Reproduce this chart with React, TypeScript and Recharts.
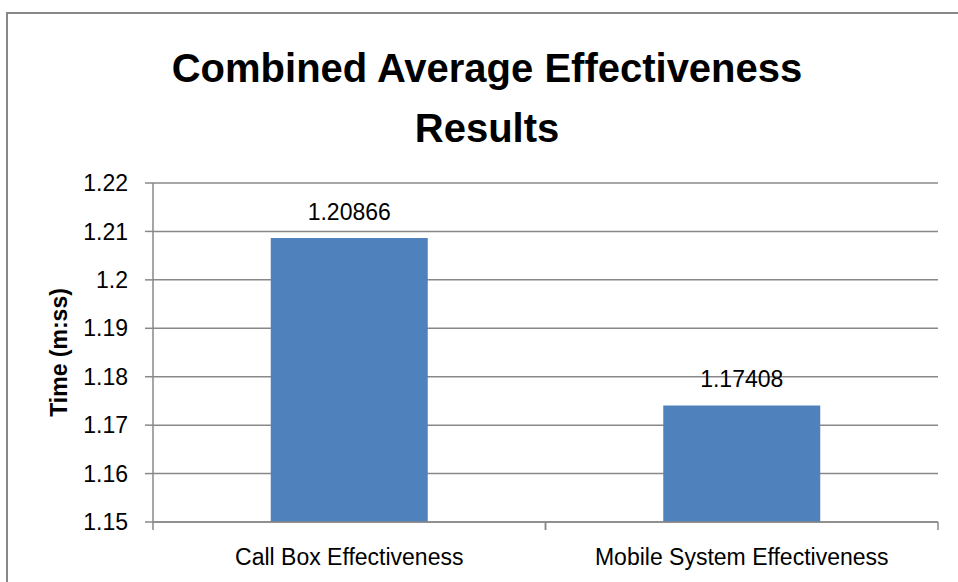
import { BarChart, Bar, XAxis, YAxis, CartesianGrid, LabelList } from "recharts"

const categories = ["Call Box Effectiveness", "Mobile System Effectiveness"]
const values = [1.20866, 1.17408]
const yTicks = [1.15, 1.16, 1.17, 1.18, 1.19, 1.2, 1.21, 1.22]

const data = categories.map((name, i) => ({ name, value: values[i] }))

const FONT = "'Liberation Sans', Arial, sans-serif"
const GREY = "#888888"

function CategoryTick(props: any) {
  const { x, y, payload, width, visibleTicksCount } = props
  const half = payload.offset ?? width / (visibleTicksCount * 2)
  const axisY = y - 26
  return (
    <g>
      <line x1={x - half} x2={x - half} y1={axisY} y2={axisY + 8} stroke={GREY} strokeWidth={1.5} />
      <line x1={x + half} x2={x + half} y1={axisY} y2={axisY + 8} stroke={GREY} strokeWidth={1.5} />
      <text x={x} y={y} dy="0.72em" textAnchor="middle" fontSize={23} fill="#000" fontFamily={FONT}>
        {payload.value}
      </text>
    </g>
  )
}

export default function App() {
  return (
    <div style={{ position: "fixed", left: 0, top: 0, width: 958, height: 582, overflow: "hidden", background: "#fff", fontFamily: FONT }}>
      <div style={{ position: "absolute", left: 6, top: 12, width: 1000, height: 700, border: `2px solid ${GREY}`, boxSizing: "border-box" }} />
      <div style={{ position: "absolute", left: 0, top: 38, width: 974, textAlign: "center", fontSize: 40, fontWeight: "bold", lineHeight: "60px", color: "#000" }}>
        Combined Average Effectiveness
        <br />
        Results
      </div>
      <div style={{ position: "absolute", left: 0, top: 0 }}>
        <BarChart width={958} height={582} data={data} margin={{ top: 183, right: 20, left: 0, bottom: 0 }} barCategoryGap="30%">
          <CartesianGrid vertical={false} stroke={GREY} strokeWidth={1.5} />
          <XAxis
            dataKey="name"
            height={60}
            axisLine={{ stroke: GREY, strokeWidth: 1.5 }}
            tickLine={false}
            tickSize={8}
            tickMargin={18}
            tick={<CategoryTick />}
            interval={0}
          />
          <YAxis
            width={153}
            domain={[1.15, 1.22]}
            ticks={yTicks}
            allowDataOverflow
            axisLine={{ stroke: GREY, strokeWidth: 1.5 }}
            tickLine={{ stroke: GREY, strokeWidth: 1.5 }}
            tickSize={8}
            tickMargin={17}
            tick={{ fontSize: 23, fill: "#000", fontFamily: FONT }}
            tickFormatter={(v: number) => String(parseFloat(v.toFixed(2)))}
            label={{ value: "Time (m:ss)", angle: -90, position: "center", dx: -18, fontSize: 23, fontWeight: "bold", fill: "#000", fontFamily: FONT }}
          />
          <Bar dataKey="value" fill="#4F81BD" isAnimationActive={false}>
            <LabelList dataKey="value" position="top" offset={18} fontSize={23} fill="#000" fontFamily={FONT} />
          </Bar>
        </BarChart>
      </div>
    </div>
  )
}
